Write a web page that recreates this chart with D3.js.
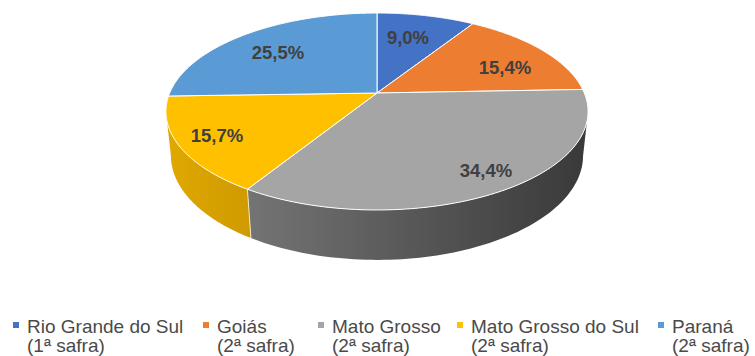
<!DOCTYPE html>
<html>
<head>
<meta charset="utf-8">
<script src="https://cdn.jsdelivr.net/npm/d3@7"></script>
<style>
  html, body { margin: 0; padding: 0; background: #fff; }
  svg { display: block; }
</style>
</head>
<body>
<svg id="chart" width="755" height="356"></svg>
<script>
// ---- data ----
const categories = ["Rio Grande do Sul", "Goiás", "Mato Grosso", "Mato Grosso do Sul", "Paraná"];
const subLabels = ["(1ª safra)", "(2ª safra)", "(2ª safra)", "(2ª safra)", "(2ª safra)"];
const values = [9.0, 15.4, 34.4, 15.7, 25.5];
const valueLabels = ["9,0%", "15,4%", "34,4%", "15,7%", "25,5%"];
const colors = ["#4472C4", "#ED7D31", "#A5A5A5", "#FFC000", "#5B9BD5"];
const sideLight = ["#3a5ea6", "#c9682a", "#747474", "#e0a800", "#4d84b5"];
const sideDark = ["#2c4a85", "#a3521f", "#393939", "#cf9b00", "#3c6a92"];

// ---- geometry (perspective projection of a tilted cylinder) ----
const svg = d3.select("#chart");
const cx = 377, cy = 93;
const R = 207.3, a = 95, b = Math.sqrt(R * R - a * a);
const sinA = a / R, cosA = b / R;
const D = 981, H = 50;

function project(theta, depth) {
  const X = R * Math.cos(theta), Z = R * Math.sin(theta);
  const ys = Z * sinA + depth * cosA;
  const zs = Z * cosA - depth * sinA;
  const s = D / (D - zs);
  return [cx + X * s, cy + ys * s];
}

const pie = d3.pie().sort(null).value(d => d)(values);
const toTheta = ang => ang - Math.PI / 2;

function arcPoints(t1, t2, depth, n) {
  const pts = [];
  for (let i = 0; i <= n; i++) {
    const t = t1 + (t2 - t1) * i / n;
    pts.push(project(t, depth));
  }
  return pts;
}

const defs = svg.append("defs");
const line = d3.line();

// silhouette angles
const k = b / D;
const silL = Math.asin(k), silR = Math.PI - Math.asin(k);

// ---- sides ----
pie.forEach((p, i) => {
  const t1 = Math.max(toTheta(p.startAngle), silL);
  const t2 = Math.min(toTheta(p.endAngle), silR);
  if (t2 <= t1) return;
  const topPts = arcPoints(t1, t2, 0, 80);
  const botPts = arcPoints(t2, t1, H, 80);
  const xs = topPts.map(d => d[0]);
  const gid = "side" + i;
  const g = defs.append("linearGradient").attr("id", gid)
    .attr("gradientUnits", "userSpaceOnUse")
    .attr("x1", d3.min(xs)).attr("x2", d3.max(xs)).attr("y1", 0).attr("y2", 0);
  g.append("stop").attr("offset", "0%").attr("stop-color", sideLight[i]);
  g.append("stop").attr("offset", "100%").attr("stop-color", sideDark[i]);
  svg.append("path")
    .attr("d", line(topPts.concat(botPts)) + "Z")
    .attr("fill", `url(#${gid})`);
});

// side boundary lines
pie.forEach((p, i) => {
  const t = toTheta(p.startAngle);
  const tt = ((t % (2 * Math.PI)) + 2 * Math.PI) % (2 * Math.PI);
  if (tt > silL && tt < silR) {
    svg.append("path").attr("d", line([project(tt, 0), project(tt, H)]))
      .attr("stroke", "#f2e6c0").attr("stroke-width", 1).attr("fill", "none");
  }
});

// ---- top faces ----
pie.forEach((p, i) => {
  const t1 = toTheta(p.startAngle), t2 = toTheta(p.endAngle);
  const pts = [[cx, cy]].concat(arcPoints(t1, t2, 0, 120));
  svg.append("path")
    .attr("d", line(pts) + "Z")
    .attr("fill", colors[i])
    .attr("stroke", "#ffffff")
    .attr("stroke-width", 1)
    .attr("stroke-linejoin", "round");
});

// ---- value labels ----
const labelPos = [[408, 37], [505, 67], [486, 170], [217, 135], [278, 52]];
svg.selectAll("text.val").data(valueLabels).enter().append("text")
  .attr("class", "val")
  .attr("x", (d, i) => labelPos[i][0])
  .attr("y", (d, i) => labelPos[i][1])
  .attr("text-anchor", "middle")
  .attr("dominant-baseline", "central")
  .attr("font-family", "Liberation Sans, Arial, sans-serif")
  .attr("font-weight", "bold")
  .attr("font-size", "18.5px")
  .attr("fill", "#404040")
  .text(d => d);

// ---- legend ----
const legendX = [13, 203, 318, 457, 658];
const legend = svg.append("g");
categories.forEach((c, i) => {
  const g = legend.append("g");
  g.append("rect").attr("x", legendX[i]).attr("y", 322).attr("width", 6).attr("height", 6).attr("fill", colors[i]);
  g.append("text").attr("x", legendX[i] + 14).attr("y", 333)
    .attr("font-family", "Liberation Sans, Arial, sans-serif")
    .attr("font-size", "19px").attr("fill", "#4a4a4a").text(c);
  g.append("text").attr("x", legendX[i] + 14).attr("y", 352)
    .attr("font-family", "Liberation Sans, Arial, sans-serif")
    .attr("font-size", "19px").attr("fill", "#4a4a4a").text(subLabels[i]);
});
</script>
</body>
</html>
